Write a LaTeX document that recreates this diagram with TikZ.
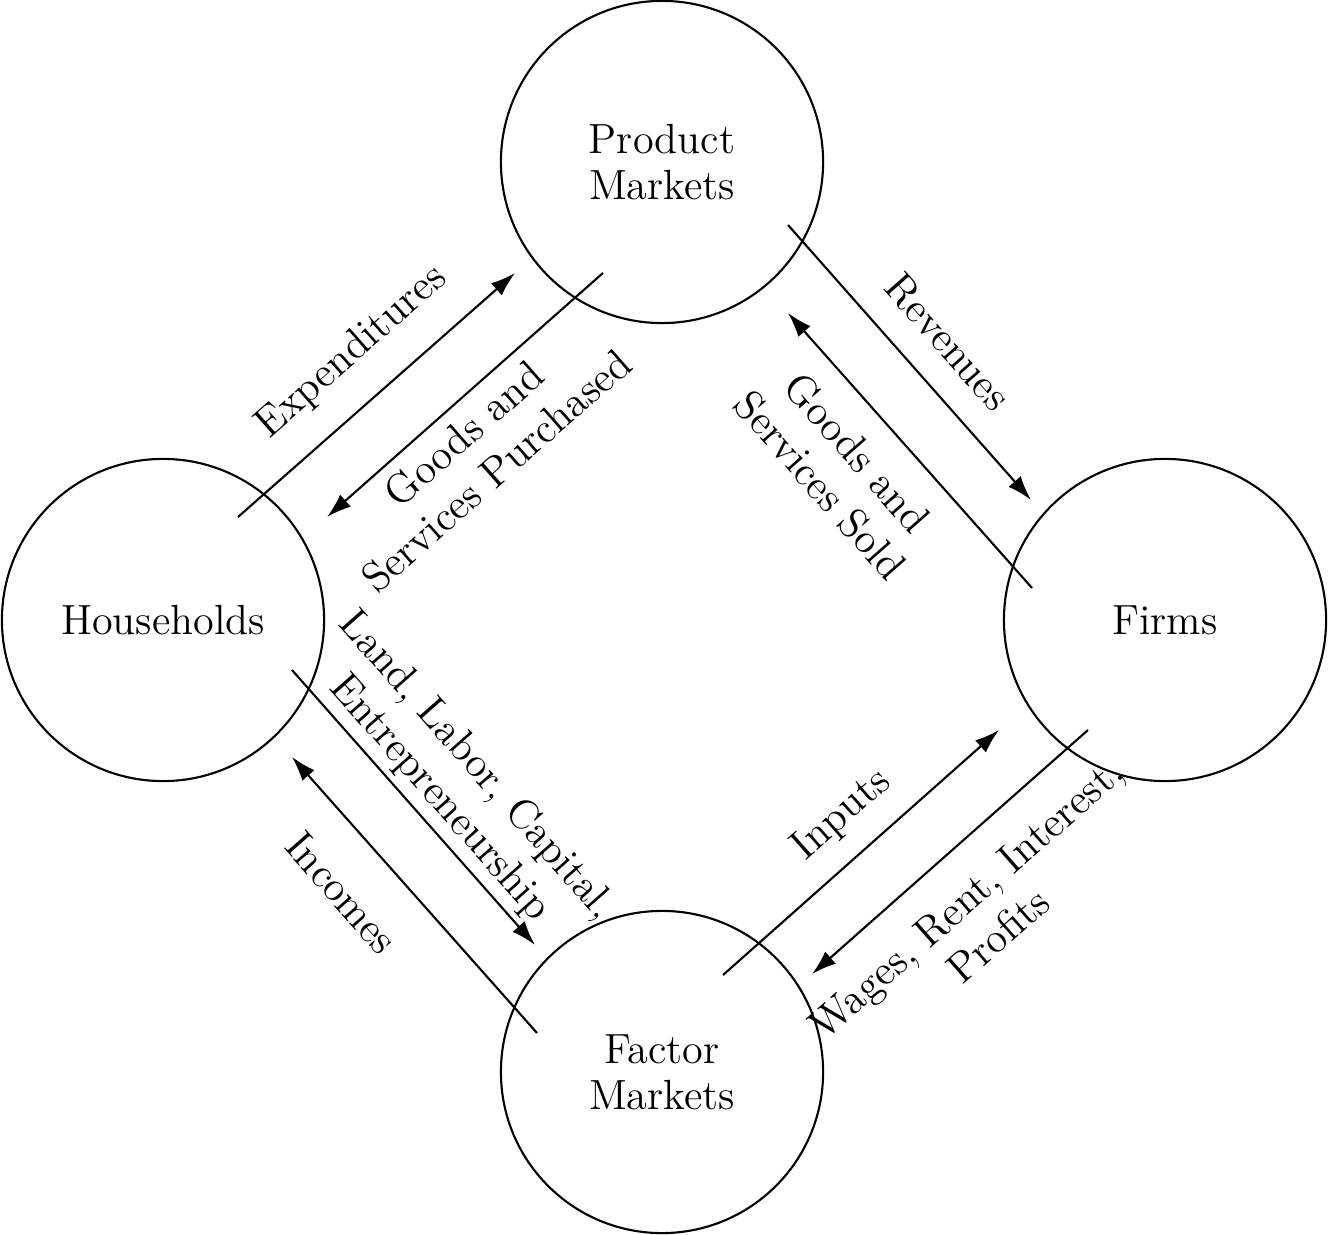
\documentclass[tikz,border=0pt]{standalone}
\usepackage{tikz}
\usetikzlibrary{arrows.meta}
\tikzset{
  market/.style={draw,circle,line width=0.6pt,minimum size=3.22cm,inner sep=0pt,align=center,font=\fontsize{12}{13}\selectfont},
  flow/.style={line width=0.6pt,-{Latex[length=7pt,width=4.6pt]}},
  flowlabel/.style={align=center,inner sep=0pt,font=\fontsize{12}{14}\selectfont}
}
\begin{document}
\begin{tikzpicture}[x=0.01cm,y=-0.01cm]
\useasboundingbox (0,0) rectangle (1328,1234);
\node[market] (product) at (662,162) {Product\\Markets};
\node[market] (households) at (163,620) {Households};
\node[market] (firms) at (1165,620) {Firms};
\node[market] (factor) at (662,1072) {Factor\\Markets};
\coordinate (expA) at (238,517); \coordinate (expB) at (515,273);
\coordinate (gspA) at (603,273); \coordinate (gspB) at (327,517);
\coordinate (revA) at (788,225); \coordinate (revB) at (1031,500);
\coordinate (gssA) at (1032,588); \coordinate (gssB) at (788,313);
\coordinate (landA) at (292,670); \coordinate (landB) at (535,945);
\coordinate (incA) at (537,1033); \coordinate (incB) at (292,757);
\coordinate (inpA) at (723,975); \coordinate (inpB) at (999,730);
\coordinate (wagA) at (1088,730); \coordinate (wagB) at (812,974);
\draw[flow] (expA) -- (expB);
\draw[flow] (gspA) -- (gspB);
\draw[flow] (revA) -- (revB);
\draw[flow] (gssA) -- (gssB);
\draw[flow] (landA) -- (landB);
\draw[flow] (incA) -- (incB);
\draw[flow] (inpA) -- (inpB);
\draw[flow] (wagA) -- (wagB);
\node[flowlabel,rotate=41.4] (expL) at (352,352) {Expenditures};
\node[flowlabel,rotate=41.4] (gspL) at (480,452) {Goods and\\Services Purchased};
\node[flowlabel,rotate=-48.6] (revL) at (948,342) {Revenues};
\node[flowlabel,rotate=-48.6] (gssL) at (839,469) {Goods and\\Services Sold};
\node[flowlabel,rotate=-48.6] (landL) at (458,782) {Land, Labor, Capital,\\Entrepreneurship};
\node[flowlabel,rotate=-48.6] (incL) at (342,893) {Incomes};
\node[flowlabel,rotate=41.4] (inpL) at (842,815) {Inputs};
\node[flowlabel,rotate=41.4] (wagL) at (982,917) {Wages, Rent, Interest,\\Profits};
\end{tikzpicture}
\end{document}
